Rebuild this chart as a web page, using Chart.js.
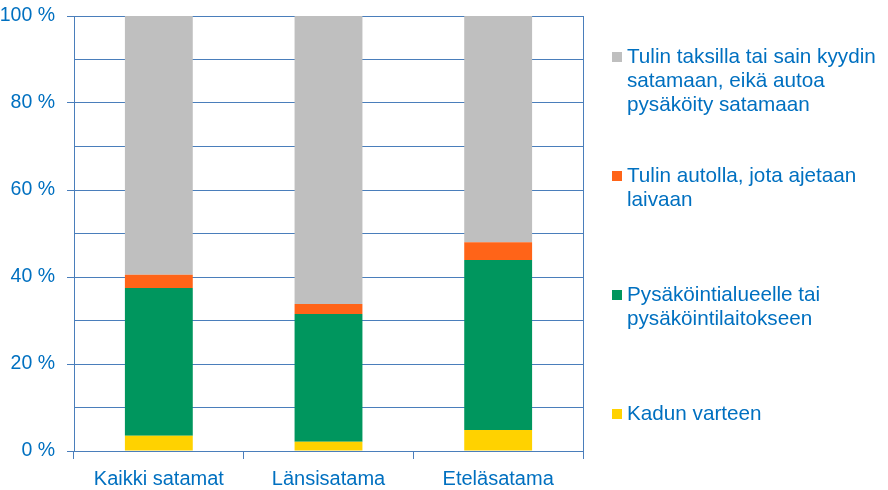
<!DOCTYPE html>
<html lang="fi">
<head>
<meta charset="utf-8">
<title>Pysäköinti satamissa</title>
<script src="https://cdn.jsdelivr.net/npm/chart.js@4/dist/chart.umd.min.js"></script>
<style>
  html, body { margin: 0; padding: 0; background: #fff; }
  #wrap { width: 888px; height: 490px; position: relative; }
</style>
</head>
<body>
<div id="wrap"><canvas id="parkingChart"></canvas></div>
<script>
// values (% of answers, each bar sums to 100)
const categories = ['Kaikki satamat', 'Länsisatama', 'Eteläsatama'];
const kadunVarteen = [3.5, 2.1, 4.8];
const pysakointi = [34.0, 29.4, 39.1];
const autollaLaivaan = [3.0, 2.3, 4.1];
const taksilla = [59.5, 66.2, 52.0];

const seriesLabels = [
    ['Kadun varteen'],
    ['Pysäköintialueelle tai', 'pysäköintilaitokseen'],
    ['Tulin autolla, jota ajetaan', 'laivaan'],
    ['Tulin taksilla tai sain kyydin', 'satamaan, eikä autoa', 'pysäköity satamaan']
];
const yTicks = [0, 20, 40, 60, 80, 100];

const textBlue = '#0070C0';
const lineBlue = '#4A7EBB';
const fontFamily = '"Liberation Sans", Arial, sans-serif';

Chart.defaults.font.family = fontFamily;
Chart.defaults.color = textBlue;

// legend drawn at the right, like the original office chart
const sideLegend = {
    id: 'sideLegend',
    afterDraw(chart) {
        const ctx = chart.ctx;
        const sets = chart.data.datasets.slice().reverse();
        ctx.save();
        ctx.font = '20.7px ' + fontFamily;
        ctx.textBaseline = 'middle';
        ctx.textAlign = 'left';
        sets.forEach((ds, i) => {
            const y = 57 + i * 119;
            ctx.fillStyle = ds.backgroundColor;
            ctx.fillRect(612, y - 5, 10, 10);
            ctx.fillStyle = textBlue;
            ds.lines.forEach((line, j) => ctx.fillText(line, 627, y + j * 24.3));
        });
        ctx.restore();
    }
};

const colors = ['#FFD200', '#00965E', '#FF6418', '#BFBFBF'];
const values = [kadunVarteen, pysakointi, autollaLaivaan, taksilla];

const ctx = document.getElementById('parkingChart').getContext('2d');
new Chart(ctx, {
    type: 'bar',
    data: {
        labels: categories,
        datasets: values.map((v, i) => ({
            label: seriesLabels[i].join(' '),
            lines: seriesLabels[i],
            data: v,
            backgroundColor: colors[i],
            borderWidth: 0,
            barPercentage: 0.4,
            categoryPercentage: 1
        }))
    },
    options: {
        responsive: true,
        maintainAspectRatio: false,
        animation: false,
        layout: { padding: { top: 16, right: 305, bottom: 0, left: 0 } },
        plugins: {
            legend: { display: false },
            tooltip: { enabled: false }
        },
        scales: {
            x: {
                stacked: true,
                afterFit: s => { s.height = 39; },
                border: { display: true, color: lineBlue, width: 1 },
                grid: {
                    offset: true,
                    drawOnChartArea: true,
                    // only the right edge of the plot gets a full line
                    color: c => (c.index === 0 || (c.index > 0 && c.index < categories.length)) ? 'rgba(0,0,0,0)' : lineBlue,
                    tickColor: lineBlue,
                    tickLength: 8,
                    lineWidth: 1
                },
                ticks: {
                    color: textBlue,
                    font: { size: 20 },
                    padding: 8,
                    maxRotation: 0
                }
            },
            y: {
                stacked: true,
                min: 0,
                max: 100,
                afterFit: s => {
                    s.width = 74;
                    s.paddingTop = 0;
                    s.paddingBottom = 0;
                },
                border: { display: true, color: lineBlue, width: 1 },
                grid: {
                    color: lineBlue,
                    lineWidth: 1,
                    tickLength: 7,
                    tickColor: c => yTicks.includes(c.tick && c.tick.value) ? lineBlue : 'rgba(0,0,0,0)'
                },
                ticks: {
                    stepSize: 10,
                    color: textBlue,
                    font: { size: 19.5 },
                    padding: 12,
                    callback: v => yTicks.includes(v) ? v + ' %' : ''
                }
            }
        }
    },
    plugins: [sideLegend]
});
</script>
</body>
</html>
